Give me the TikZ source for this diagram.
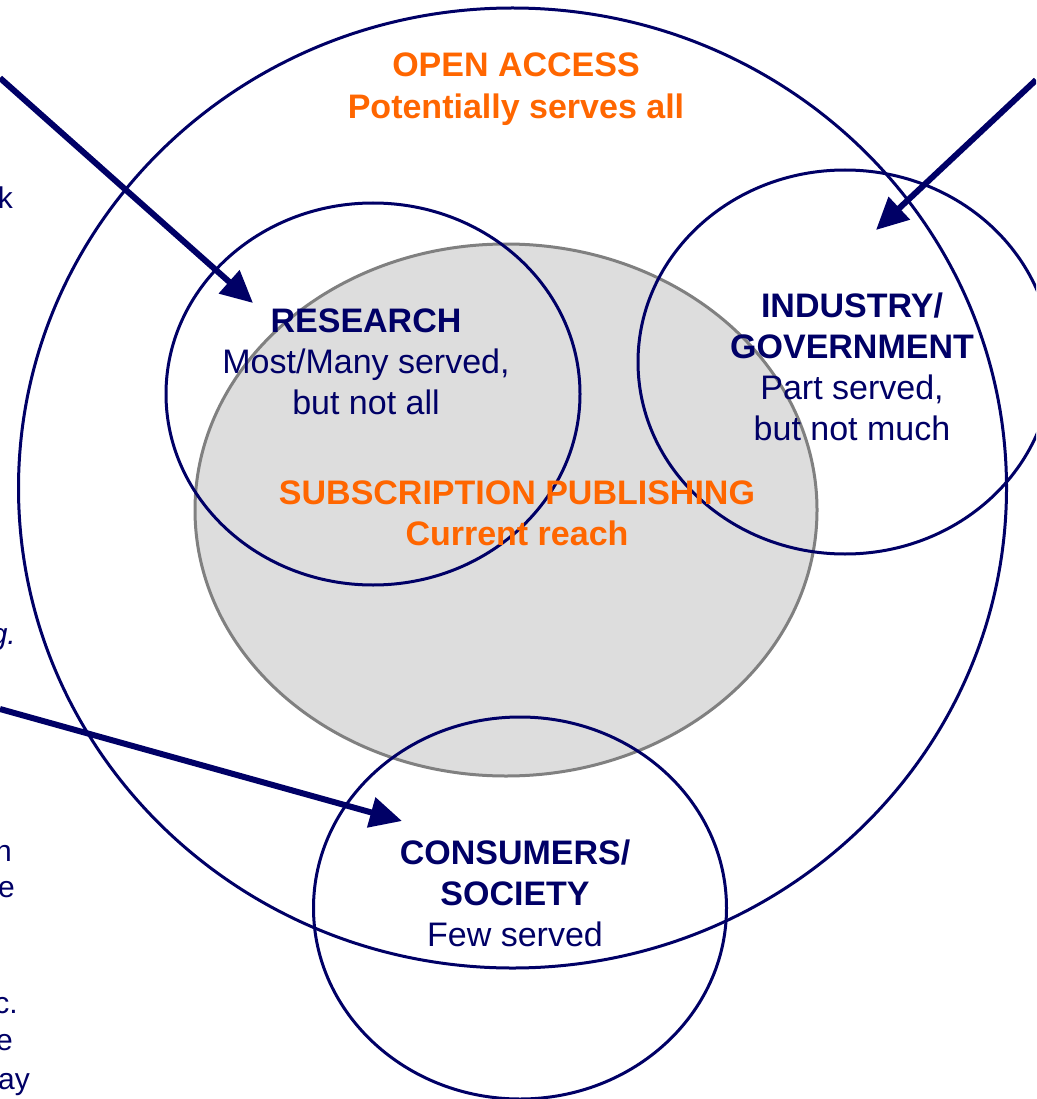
\documentclass[tikz,border=0pt]{standalone}
\usepackage{fontspec}
\setmainfont{Liberation Sans}
\usetikzlibrary{shapes.geometric,arrows.meta}
\definecolor{navy}{HTML}{000066}
\definecolor{orng}{HTML}{FF6600}
\definecolor{greyfill}{HTML}{DDDDDD}
\definecolor{greyline}{HTML}{808080}
\begin{document}
\begin{tikzpicture}[x=1pt,y=-1pt,
  ring/.style={ellipse,draw=navy,line width=3pt,inner sep=0pt},
  reach/.style={ellipse,draw=greyline,fill=greyfill,line width=3pt,inner sep=0pt},
  lbl/.style={align=center,text=navy,font=\fontsize{34}{41}\selectfont,inner sep=0pt},
  olbl/.style={align=center,text=orng,font=\fontsize{34}{41}\selectfont\bfseries,inner sep=0pt},
  frag/.style={text=navy,font=\fontsize{30}{37}\selectfont,inner sep=0pt,anchor=base east},
  pointer/.style={draw=navy,line width=6pt,-{Triangle[length=32pt,width=30pt]}}]
\useasboundingbox (0,0) rectangle (1036,1099);
\clip (0,0) rectangle (1036,1099);
\fill[white] (0,0) rectangle (1036,1099);
% shapes
\node[reach,minimum width=622pt,minimum height=532pt] (sub) at (506,510) {};
\node[ring,minimum width=988pt,minimum height=960pt] (oa) at (512.5,488) {};
\node[ring,minimum width=414pt,minimum height=382pt] (res) at (373,394) {};
\node[ring,minimum width=414pt,minimum height=384pt] (ind) at (845,362) {};
\node[ring,minimum width=413pt,minimum height=382pt] (con) at (520,908) {};
% labels
\node[olbl,font=\fontsize{34}{42}\selectfont\bfseries] (oalbl) at (516,89) {OPEN ACCESS\\Potentially serves all};
\node[olbl] (sublbl) at (517,513) {SUBSCRIPTION PUBLISHING\\Current reach};
\node[lbl] (reslbl) at (366,362) {\textbf{RESEARCH}\\Most/Many served,\\but not all};
\node[lbl] (indlbl) at (852,367) {\textbf{INDUSTRY/}\\\textbf{GOVERNMENT}\\Part served,\\but not much};
\node[lbl] (conlbl) at (515,893) {\textbf{CONSUMERS/}\\\textbf{SOCIETY}\\Few served};
% arrows
\coordinate (s1) at (0,78);
\coordinate (t1) at (253,303);
\coordinate (s2) at (1036,80);
\coordinate (t2) at (876,230);
\coordinate (s3) at (0,709);
\coordinate (t3) at (402,821);
\draw[pointer] (s1) -- (t1);
\draw[pointer] (s2) -- (t2);
\draw[pointer] (s3) -- (t3);
% cut-off text at left edge (cut off in the reference too)
\node[frag] (f1) at (13,209) {k};
\node[frag] (f2) at (16,644) {\itshape g.};
\node[frag] (f3) at (12,861) {h};
\node[frag] (f4) at (15,897) {e};
\node[frag] (f5) at (18,1013) {c.};
\node[frag] (f6) at (13,1050) {e};
\node[frag] (f7) at (30,1089) {ay};
\end{tikzpicture}
\end{document}
